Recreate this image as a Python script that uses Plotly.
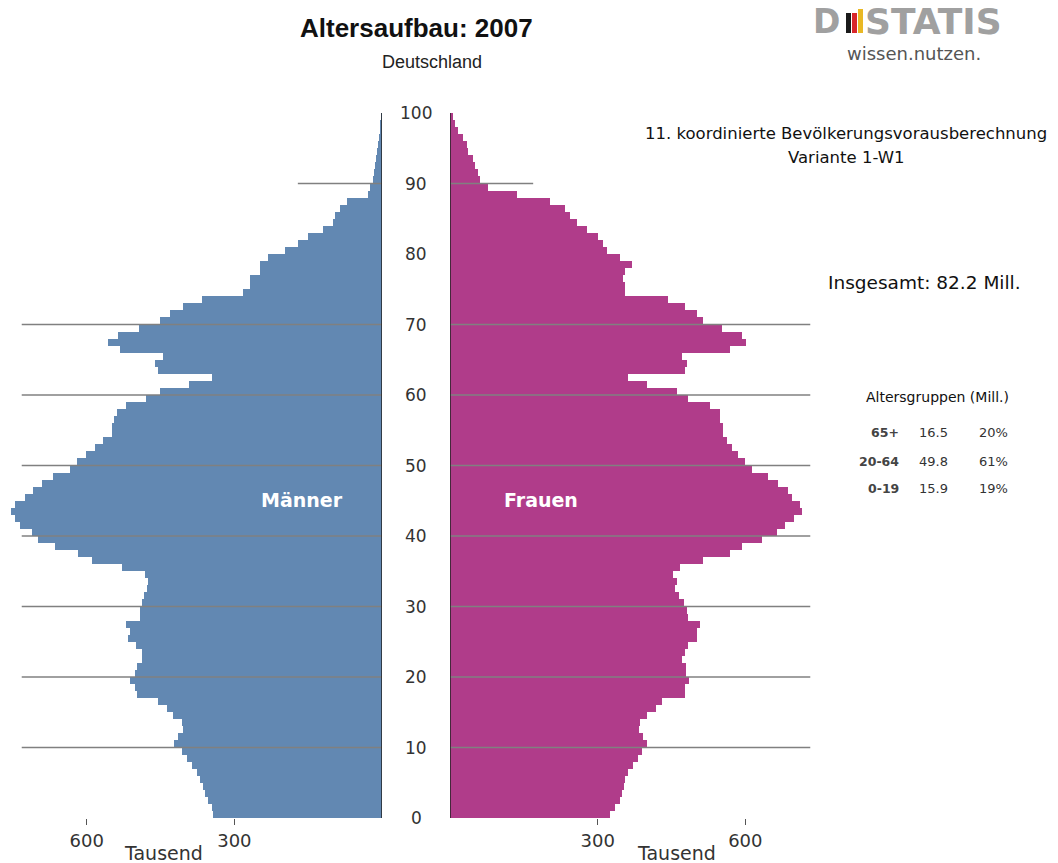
import plotly.graph_objects as go

# Altersaufbau Deutschland 2007, Werte in Tausend je Altersjahr (0 bis 99)
ages = list(range(100))
maenner = [343, 346, 354, 360, 364, 370, 376, 386, 396, 407,
           423, 415, 404, 407, 425, 437, 455, 498, 502, 512,
           502, 498, 488, 488, 500, 516, 512, 520, 492, 492,
           488, 484, 478, 476, 482, 528, 589, 618, 665, 699,
           711, 736, 746, 754, 746, 726, 709, 691, 668, 634,
           620, 602, 583, 567, 549, 549, 545, 539, 520, 480,
           451, 392, 346, 455, 461, 445, 533, 557, 537, 494,
           451, 431, 404, 366, 283, 268, 268, 248, 248, 232,
           197, 171, 150, 120, 100, 96, 85, 71, 28, 24,
           18, 16, 14, 12, 10, 8, 6, 4, 3, 2]
frauen = [325, 335, 345, 349, 354, 356, 362, 372, 382, 390,
          400, 393, 385, 386, 400, 419, 431, 478, 478, 486,
          480, 480, 471, 478, 484, 502, 502, 508, 484, 482,
          476, 466, 457, 461, 454, 467, 514, 569, 593, 634,
          665, 681, 698, 715, 711, 695, 687, 667, 646, 614,
          600, 585, 573, 563, 555, 555, 549, 549, 528, 484,
          461, 400, 362, 478, 482, 471, 569, 602, 593, 553,
          514, 502, 478, 443, 356, 356, 352, 356, 370, 345,
          319, 311, 301, 278, 258, 244, 234, 203, 136, 77,
          61, 57, 51, 47, 37, 35, 26, 16, 10, 6]

age_ticks = [0, 10, 20, 30, 40, 50, 60, 70, 80, 90, 100]
x_ticks = [300, 600]
grid_ages = [10, 20, 30, 40, 50, 60, 70]

gruppen = ["65+", "20-64", "0-19"]
gruppen_mill = [16.5, 49.8, 15.9]
gruppen_anteil = [20, 61, 19]

W, H = 1058, 863
BLUE = "#6288b2"
MAGENTA = "#b03c8a"


def px(x):
    return x / W


def py(y):
    return 1 - y / H


fig = go.Figure()
fig.add_trace(go.Bar(x=maenner, y=[a + 0.5 for a in ages], orientation="h", width=1,
                     marker=dict(color=BLUE, line=dict(width=0)), name="Männer",
                     xaxis="x", yaxis="y"))
fig.add_trace(go.Bar(x=frauen, y=[a + 0.5 for a in ages], orientation="h", width=1,
                     marker=dict(color=MAGENTA, line=dict(width=0)), name="Frauen",
                     xaxis="x2", yaxis="y"))

tickfont = dict(family="DejaVu Sans", size=18, color="#333")
axis_common = dict(tickvals=x_ticks, ticks="outside", ticklen=6, tickcolor="#555",
                   showgrid=False, zeroline=False, showline=False, tickfont=tickfont,
                   fixedrange=True)

fig.update_layout(
    width=W, height=H,
    margin=dict(l=0, r=0, t=0, b=0),
    paper_bgcolor="white", plot_bgcolor="white",
    showlegend=False, bargap=0,
    xaxis=dict(domain=[px(5), px(382)], range=[766, 0], anchor="y", **axis_common),
    xaxis2=dict(domain=[px(450), px(827)], range=[0, 766], anchor="y", **axis_common),
    yaxis=dict(domain=[py(818), py(113)], range=[0, 100], showticklabels=False,
               showgrid=False, zeroline=False, showline=False, ticks=""),
)

shapes = []
# horizontal guide lines over the bars
for g in grid_ages:
    shapes.append(dict(type="line", xref="x", yref="y", x0=732, x1=-12, y0=g, y1=g,
                       line=dict(color="#808080", width=1.3), layer="above"))
    shapes.append(dict(type="line", xref="x2", yref="y", x0=-14, x1=732, y0=g, y1=g,
                       line=dict(color="#808080", width=1.3), layer="above"))
shapes.append(dict(type="line", xref="x", yref="y", x0=171, x1=-12, y0=90, y1=90,
                   line=dict(color="#808080", width=1.3), layer="above"))
shapes.append(dict(type="line", xref="x2", yref="y", x0=-14, x1=169, y0=90, y1=90,
                   line=dict(color="#808080", width=1.3), layer="above"))
# vertical axis lines at zero
for ax in ["x", "x2"]:
    shapes.append(dict(type="line", xref=ax, yref="y", x0=0, x1=0, y0=0, y1=100,
                       line=dict(color="#222", width=1.5), layer="above"))
# logo flag bars
for (x0, x1, y0, col) in [(846, 851, 13, "#1a1a1a"), (852, 857, 13, "#d8262b"),
                          (858, 863, 9, "#e9b824")]:
    shapes.append(dict(type="rect", xref="paper", yref="paper", x0=px(x0), x1=px(x1),
                       y0=py(33), y1=py(y0), fillcolor=col, line=dict(width=0)))
fig.update_layout(shapes=shapes)

ann = []
for t in age_ticks:
    ann.append(dict(x=px(416), y=t, xref="paper", yref="y", text=str(t), showarrow=False,
                    font=dict(family="DejaVu Sans", size=17, color="#333")))


def text(x, y, s, size, family="Liberation Sans", color="#111", anchor="center", bold=False):
    ann.append(dict(x=px(x), y=py(y), xref="paper", yref="paper", text=s, showarrow=False,
                    xanchor=anchor, yanchor="middle",
                    font=dict(family=family, size=size, color=color,
                              weight="bold" if bold else "normal")))


text(416, 28, "Altersaufbau: 2007", 26, bold=True)
text(432, 62, "Deutschland", 18, color="#222")
text(163, 853, "Tausend", 19, family="DejaVu Sans", color="#333")
text(676, 853, "Tausend", 19, family="DejaVu Sans", color="#333")
text(302, 500, "Männer", 19, family="DejaVu Sans", color="white", bold=True)
text(541, 500, "Frauen", 19, family="DejaVu Sans", color="white", bold=True)

# logo
text(811, 21, "D", 33, family="DejaVu Sans", color="#a0a0a0", anchor="left", bold=True)
text(863, 21, "STATIS", 36, family="DejaVu Sans", color="#a0a0a0", anchor="left", bold=True)
text(914, 54, "wissen.nutzen.", 18, family="DejaVu Sans", color="#555")

text(846, 133, "11. koordinierte Bevölkerungsvorausberechnung", 16.5, family="DejaVu Sans")
text(846, 157, "Variante 1-W1", 16.5, family="DejaVu Sans")
text(924, 282, "Insgesamt: 82.2 Mill.", 18.5, family="DejaVu Sans")
text(937, 397, "Altersgruppen (Mill.)", 14, family="DejaVu Sans")
for i, (g, m, a) in enumerate(zip(gruppen, gruppen_mill, gruppen_anteil)):
    yy = [432, 461, 488][i]
    text(901, yy, g, 12.5, family="DejaVu Sans", color="#444", anchor="right", bold=True)
    text(933, yy, f"{m:.1f}", 13, family="DejaVu Sans", color="#333")
    text(1010, yy, f"{a}%", 13, family="DejaVu Sans", color="#333", anchor="right")

fig.update_layout(annotations=ann)

fig.write_html("out.html", config={"displayModeBar": False},
               post_script="document.body.style.margin='0';")
